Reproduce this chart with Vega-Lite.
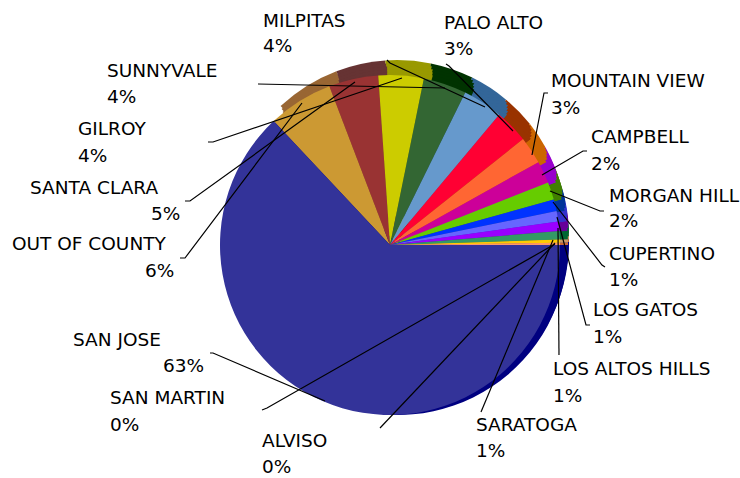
{
  "$schema": "https://vega.github.io/schema/vega-lite/v6.json",
  "width": 700,
  "height": 466,
  "autosize": {"type": "none"},
  "padding": {"left": 40, "top": 12, "right": 0, "bottom": 0},
  "background": "white",
  "config": {"view": {"stroke": null}, "text": {"font": "DejaVu Sans", "fontSize": 18.5, "color": "#000000"}},
  "datasets": {
    "slices": [
      {"name": "OUT OF COUNTY", "ord": 1, "share": 6.2},
      {"name": "SANTA CLARA", "ord": 2, "share": 4.7},
      {"name": "GILROY", "ord": 3, "share": 4.3},
      {"name": "SUNNYVALE", "ord": 4, "share": 4.1},
      {"name": "MILPITAS", "ord": 5, "share": 3.8},
      {"name": "PALO ALTO", "ord": 6, "share": 3.2},
      {"name": "MOUNTAIN VIEW", "ord": 7, "share": 2.6},
      {"name": "CAMPBELL", "ord": 8, "share": 2.1},
      {"name": "MORGAN HILL", "ord": 9, "share": 1.7},
      {"name": "CUPERTINO", "ord": 10, "share": 1.1},
      {"name": "LOS GATOS", "ord": 11, "share": 1.0},
      {"name": "LOS ALTOS HILLS", "ord": 12, "share": 0.9},
      {"name": "SARATOGA", "ord": 13, "share": 0.8},
      {"name": "ALVISO", "ord": 14, "share": 0.3},
      {"name": "SAN MARTIN", "ord": 15, "share": 0.2},
      {"name": "SAN JOSE", "ord": 16, "share": 63.0}
    ],
    "labels": [
      {"name": "MILPITAS", "pct": "4%", "nx": -127, "ny": 218, "px": -127, "py": 193},
      {"name": "PALO ALTO", "pct": "3%", "nx": 54, "ny": 216, "px": 54, "py": 190},
      {"name": "MOUNTAIN VIEW", "pct": "3%", "nx": 161, "ny": 158, "px": 161, "py": 131},
      {"name": "CAMPBELL", "pct": "2%", "nx": 201, "ny": 102, "px": 201, "py": 75},
      {"name": "MORGAN HILL", "pct": "2%", "nx": 219, "ny": 43, "px": 219, "py": 18},
      {"name": "CUPERTINO", "pct": "1%", "nx": 219, "ny": -15, "px": 219, "py": -41},
      {"name": "LOS GATOS", "pct": "1%", "nx": 203, "ny": -71, "px": 203, "py": -98},
      {"name": "LOS ALTOS HILLS", "pct": "1%", "nx": 163, "ny": -130, "px": 163, "py": -157},
      {"name": "SARATOGA", "pct": "1%", "nx": 86, "ny": -186, "px": 86, "py": -212},
      {"name": "ALVISO", "pct": "0%", "nx": -128, "ny": -202, "px": -128, "py": -228},
      {"name": "SAN MARTIN", "pct": "0%", "nx": -280, "ny": -159, "px": -280, "py": -186},
      {"name": "SAN JOSE", "pct": "63%", "nx": -317, "ny": -101, "px": -227, "py": -127},
      {"name": "OUT OF COUNTY", "pct": "6%", "nx": -378, "ny": -5, "px": -245, "py": -32},
      {"name": "SANTA CLARA", "pct": "5%", "nx": -360, "ny": 51, "px": -239, "py": 25},
      {"name": "GILROY", "pct": "4%", "nx": -312, "ny": 110, "px": -312, "py": 83},
      {"name": "SUNNYVALE", "pct": "4%", "nx": -283, "ny": 168, "px": -283, "py": 142}
    ],
    "leaders": [
      {"name": "MILPITAS", "i": 1, "x": -3, "y": 185}, {"name": "MILPITAS", "i": 2, "x": 0, "y": 182}, {"name": "MILPITAS", "i": 3, "x": 95, "y": 138},
      {"name": "PALO ALTO", "i": 1, "x": 56, "y": 181}, {"name": "PALO ALTO", "i": 2, "x": 59, "y": 179}, {"name": "PALO ALTO", "i": 3, "x": 123, "y": 114},
      {"name": "MOUNTAIN VIEW", "i": 1, "x": 158, "y": 152}, {"name": "MOUNTAIN VIEW", "i": 2, "x": 154, "y": 152}, {"name": "MOUNTAIN VIEW", "i": 3, "x": 142, "y": 90},
      {"name": "CAMPBELL", "i": 1, "x": 197, "y": 94}, {"name": "CAMPBELL", "i": 2, "x": 193, "y": 94}, {"name": "CAMPBELL", "i": 3, "x": 152, "y": 70},
      {"name": "MORGAN HILL", "i": 1, "x": 214, "y": 34}, {"name": "MORGAN HILL", "i": 2, "x": 210, "y": 34}, {"name": "MORGAN HILL", "i": 3, "x": 160, "y": 54},
      {"name": "CUPERTINO", "i": 1, "x": 215, "y": -22}, {"name": "CUPERTINO", "i": 2, "x": 212, "y": -20}, {"name": "CUPERTINO", "i": 3, "x": 163, "y": 43},
      {"name": "LOS GATOS", "i": 1, "x": 200, "y": -80}, {"name": "LOS GATOS", "i": 2, "x": 196, "y": -80}, {"name": "LOS GATOS", "i": 3, "x": 167, "y": 28},
      {"name": "LOS ALTOS HILLS", "i": 1, "x": 169, "y": -110}, {"name": "LOS ALTOS HILLS", "i": 2, "x": 168, "y": 17},
      {"name": "SARATOGA", "i": 1, "x": 91, "y": -167}, {"name": "SARATOGA", "i": 2, "x": 163, "y": 5},
      {"name": "ALVISO", "i": 1, "x": -10, "y": -183}, {"name": "ALVISO", "i": 2, "x": 165, "y": 2},
      {"name": "SAN MARTIN", "i": 1, "x": -128, "y": -165}, {"name": "SAN MARTIN", "i": 2, "x": -123, "y": -163}, {"name": "SAN MARTIN", "i": 3, "x": 165, "y": 1},
      {"name": "SAN JOSE", "i": 1, "x": -180, "y": -108}, {"name": "SAN JOSE", "i": 2, "x": -177, "y": -108}, {"name": "SAN JOSE", "i": 3, "x": -65, "y": -156},
      {"name": "OUT OF COUNTY", "i": 1, "x": -210, "y": -13}, {"name": "OUT OF COUNTY", "i": 2, "x": -205, "y": -13}, {"name": "OUT OF COUNTY", "i": 3, "x": -88, "y": 142},
      {"name": "SANTA CLARA", "i": 1, "x": -205, "y": 44}, {"name": "SANTA CLARA", "i": 2, "x": -200, "y": 44}, {"name": "SANTA CLARA", "i": 3, "x": -35, "y": 163},
      {"name": "GILROY", "i": 1, "x": -182, "y": 103}, {"name": "GILROY", "i": 2, "x": -177, "y": 103}, {"name": "GILROY", "i": 3, "x": 12, "y": 167},
      {"name": "SUNNYVALE", "i": 1, "x": -132, "y": 161}, {"name": "SUNNYVALE", "i": 2, "x": 55, "y": 157}
    ]
  },
  "layer": [
    {
      "data": {"name": "slices"},
      "encoding": {
        "theta": {"field": "share", "type": "quantitative", "stack": true, "scale": {"range": [5.529, 11.812]}},
        "order": {"field": "ord", "type": "quantitative"},
        "color": {"field": "name", "type": "nominal", "legend": null, "sort": null,
          "scale": {"domain": ["OUT OF COUNTY", "SANTA CLARA", "GILROY", "SUNNYVALE", "MILPITAS", "PALO ALTO", "MOUNTAIN VIEW", "CAMPBELL", "MORGAN HILL", "CUPERTINO", "LOS GATOS", "LOS ALTOS HILLS", "SARATOGA", "ALVISO", "SAN MARTIN", "SAN JOSE"],
            "range": ["#996633", "#663333", "#999900", "#003300", "#336699", "#993300", "#CC6600", "#9900CC", "#408000", "#003399", "#3333CC", "#660099", "#006633", "#CC9966", "#CC6633", "#000080"]}}
      },
      "layer": [
        {"mark": {"type": "arc", "outerRadius": 170, "xOffset": 7, "yOffset": -15}, "encoding": {"opacity": {"condition": {"test": "datum.name === 'SAN JOSE'", "value": 0}, "value": 1}}},
        {"mark": {"type": "arc", "outerRadius": 170, "xOffset": 8, "yOffset": -12}, "encoding": {"opacity": {"condition": {"test": "datum.name === 'SAN JOSE'", "value": 0}, "value": 1}}},
        {"mark": {"type": "arc", "outerRadius": 170, "xOffset": 9, "yOffset": -9}, "encoding": {"opacity": {"condition": {"test": "datum.name === 'SAN JOSE'", "value": 0}, "value": 1}}},
        {"mark": {"type": "arc", "outerRadius": 170, "xOffset": 9, "yOffset": -6}},
        {"mark": {"type": "arc", "outerRadius": 170, "xOffset": 9, "yOffset": -3}},
        {"mark": {"type": "arc", "outerRadius": 170, "xOffset": 8, "yOffset": 0}}
      ]
    },
    {
      "data": {"name": "slices"},
      "layer": [
        {
          "mark": {"type": "arc", "outerRadius": 170},
          "encoding": {
            "theta": {"field": "share", "type": "quantitative", "stack": true, "scale": {"range": [5.529, 11.812]}},
            "order": {"field": "ord", "type": "quantitative"},
            "color": {"field": "name", "type": "nominal", "legend": null, "sort": null,
              "scale": {"domain": ["OUT OF COUNTY", "SANTA CLARA", "GILROY", "SUNNYVALE", "MILPITAS", "PALO ALTO", "MOUNTAIN VIEW", "CAMPBELL", "MORGAN HILL", "CUPERTINO", "LOS GATOS", "LOS ALTOS HILLS", "SARATOGA", "ALVISO", "SAN MARTIN", "SAN JOSE"],
                "range": ["#CC9933", "#993333", "#CCCC00", "#336633", "#6699CC", "#FF0033", "#FF6633", "#CC0099", "#66CC00", "#0033FF", "#6666FF", "#9900FF", "#339966", "#FFCC00", "#FF9966", "#333399"]}}
          }
        }
      ]
    },
    {
      "data": {"name": "leaders"},
      "mark": {"type": "line", "color": "#000000", "strokeWidth": 1.2, "interpolate": "linear"},
      "encoding": {
        "x": {"field": "x", "type": "quantitative", "scale": {"domain": [-350, 350], "nice": false, "zero": false}, "axis": null},
        "y": {"field": "y", "type": "quantitative", "scale": {"domain": [-233, 233], "nice": false, "zero": false}, "axis": null},
        "detail": {"field": "name", "type": "nominal"},
        "order": {"field": "i", "type": "quantitative"}
      }
    },
    {
      "data": {"name": "labels"},
      "mark": {"type": "text", "align": "left", "baseline": "alphabetic"},
      "encoding": {
        "x": {"field": "nx", "type": "quantitative"},
        "y": {"field": "ny", "type": "quantitative"},
        "text": {"field": "name", "type": "nominal"}
      }
    },
    {
      "data": {"name": "labels"},
      "mark": {"type": "text", "align": "left", "baseline": "alphabetic"},
      "encoding": {
        "x": {"field": "px", "type": "quantitative"},
        "y": {"field": "py", "type": "quantitative"},
        "text": {"field": "pct", "type": "nominal"}
      }
    }
  ],
  "resolve": {"scale": {"color": "independent"}}
}
